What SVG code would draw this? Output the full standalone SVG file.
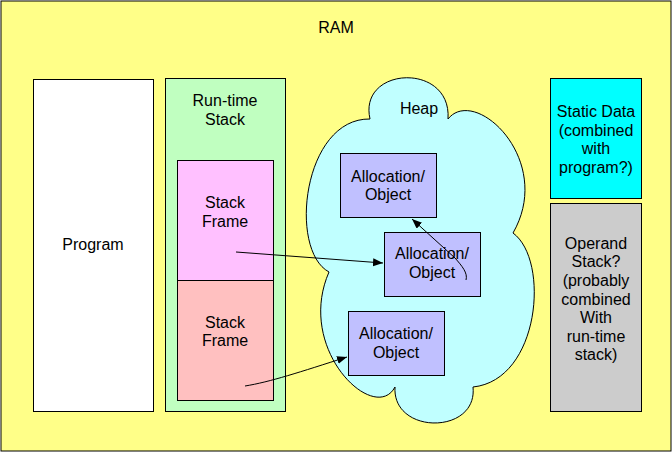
<svg xmlns="http://www.w3.org/2000/svg" width="672" height="452" viewBox="0 0 672 452">
<defs>
<style>
.b{stroke:#000;stroke-width:1}
.t{font-family:"Liberation Sans",Arial,Helvetica,sans-serif;font-size:16px;fill:#000;text-anchor:middle}
.c{fill:none;stroke:#000;stroke-width:1}
</style>
<marker id="ah" markerUnits="userSpaceOnUse" markerWidth="12" markerHeight="10" refX="10" refY="4" orient="auto">
<path d="M0,0 L10,4 L0,8 Z" fill="#000"/>
</marker>
</defs>
<g id="ram">
<rect class="b" x="1" y="1" width="670" height="450" fill="#FFFF88"/>
<text class="t" x="336" y="33">RAM</text>
</g>
<g id="program">
<rect class="b" x="33.5" y="79.5" width="120" height="332" fill="#FFFFFF"/>
<text class="t" x="93" y="250">Program</text>
</g>
<g id="runtime-stack">
<rect class="b" x="165.5" y="78.5" width="120" height="333" fill="#C0FFC0"/>
<text class="t" x="225" y="106">Run-time</text>
<text class="t" x="225" y="125">Stack</text>
</g>
<g id="frame1">
<rect class="b" x="177.5" y="160.5" width="96" height="120" fill="#FFC0FF"/>
<text class="t" x="225" y="208">Stack</text>
<text class="t" x="225" y="227">Frame</text>
</g>
<g id="frame2">
<rect class="b" x="177.5" y="280.5" width="96" height="120" fill="#FFC0C0"/>
<text class="t" x="225" y="328">Stack</text>
<text class="t" x="225" y="346">Frame</text>
</g>
<g id="heap">
<path class="b" fill="#C0FFFF" d="M370,119 C358,66 452,62 448,119 C475,85 555,160 513,233 C550,260 540,380 473,387 C478,435 392,435 395,387 C375,425 295,350 329,272 C288,250 303,118 370,119 Z"/>
<text class="t" x="419" y="114">Heap</text>
</g>
<g id="alloc1">
<rect class="b" x="340.5" y="153.5" width="96" height="64" fill="#C0C0FF"/>
<text class="t" x="388" y="182">Allocation/</text>
<text class="t" x="388" y="200">Object</text>
</g>
<g id="alloc2">
<rect class="b" x="384.5" y="232.5" width="96" height="64" fill="#C0C0FF"/>
<text class="t" x="432" y="259">Allocation/</text>
<text class="t" x="432" y="278">Object</text>
</g>
<g id="alloc3">
<rect class="b" x="348.5" y="311.5" width="96" height="64" fill="#C0C0FF"/>
<text class="t" x="396" y="339">Allocation/</text>
<text class="t" x="396" y="358">Object</text>
</g>
<g id="static-data">
<rect class="b" x="550.5" y="78.5" width="91" height="120" fill="#00FFFF"/>
<text class="t" x="596" y="117">Static Data</text>
<text class="t" x="596" y="136">(combined</text>
<text class="t" x="596" y="154">with</text>
<text class="t" x="596" y="173">program?)</text>
</g>
<g id="operand-stack">
<rect class="b" x="550.5" y="203.5" width="91" height="208" fill="#CCCCCC"/>
<text class="t" x="596" y="249">Operand</text>
<text class="t" x="596" y="267">Stack?</text>
<text class="t" x="596" y="286">(probably</text>
<text class="t" x="596" y="305">combined</text>
<text class="t" x="596" y="323">With</text>
<text class="t" x="596" y="342">run-time</text>
<text class="t" x="596" y="360">stack)</text>
</g>
<g id="connectors">
<path class="c" d="M236,252 L383,263" marker-end="url(#ah)"/>
<path class="c" d="M245,386 C270,382 300,372 347,357" marker-end="url(#ah)"/>
<path class="c" d="M466,280 C468,273 462,266 455,258 L412,219" marker-end="url(#ah)"/>
</g>
</svg>
